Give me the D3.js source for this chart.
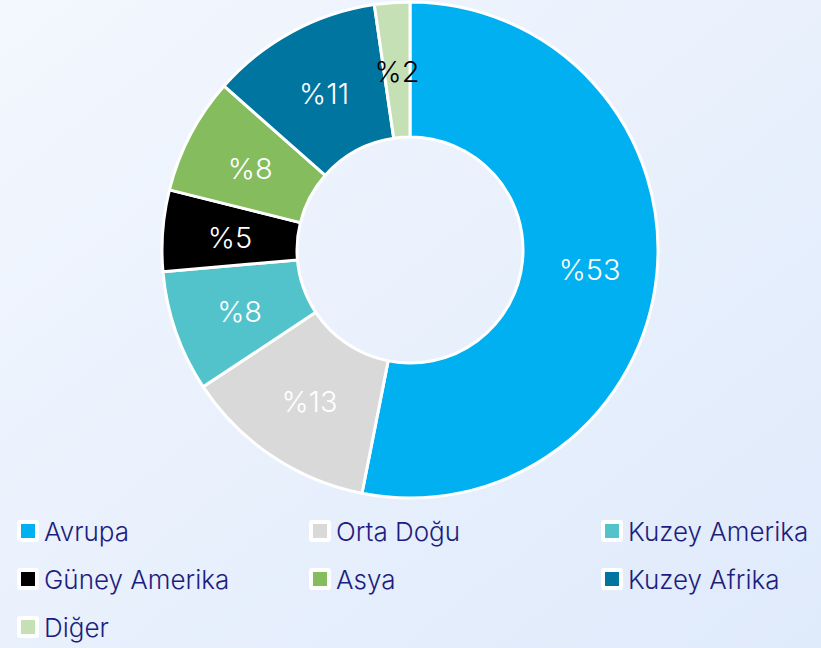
<!DOCTYPE html>
<meta charset="utf-8">
<style>
  body { margin: 0; }
  svg { display: block; }
</style>
<body>
<script src="https://cdn.jsdelivr.net/npm/d3@7"></script>
<script>

// data (slice sizes estimated from the angles, labels are rounded)
var regions = ["Avrupa", "Orta Doğu", "Kuzey Amerika", "Güney Amerika", "Asya", "Kuzey Afrika", "Diğer"];
var shares = [53.1, 12.6, 7.9, 5.3, 7.6, 11.2, 2.3];
var colors = ["#00b0f0", "#d9d9d9", "#53c3cb", "#000000", "#84bc5e", "#00759f", "#c5e0b4"];
var labelColors = ["#fff", "#fff", "#fff", "#fff", "#fff", "#fff", "#000"];

var width = 821,
    height = 648,
    cx = 410,
    cy = 250,
    outerR = 248,
    innerR = 113;

var svg = d3.select("body").append("svg")
    .attr("width", width)
    .attr("height", height);

var grad = svg.append("defs").append("linearGradient")
    .attr("id", "bg")
    .attr("x1", "0").attr("y1", "0")
    .attr("x2", "1").attr("y2", "1");
grad.append("stop").attr("offset", "0").attr("stop-color", "#f3f7fe");
grad.append("stop").attr("offset", "1").attr("stop-color", "#dfeafb");

svg.append("rect")
    .attr("width", width)
    .attr("height", height)
    .attr("fill", "url(#bg)");

var data = regions.map(function(r, i) {
  return { name: r, value: shares[i], color: colors[i], label: labelColors[i] };
});

var pie = d3.pie()
    .sort(null)
    .value(function(d) { return d.value; });

var arc = d3.arc()
    .innerRadius(innerR)
    .outerRadius(outerR);

var g = svg.append("g")
    .attr("transform", "translate(" + cx + "," + cy + ")");

var slices = g.selectAll("g.slice")
    .data(pie(data))
    .enter().append("g")
      .attr("class", "slice");

slices.append("path")
    .attr("d", arc)
    .attr("fill", function(d) { return d.data.color; })
    .attr("stroke", "#fff")
    .attr("stroke-width", 3)
    .attr("stroke-linejoin", "round");

slices.append("text")
    .attr("transform", function(d) {
      var c = arc.centroid(d);
      return "translate(" + c[0] + "," + (c[1] + 2) + ")";
    })
    .attr("text-anchor", "middle")
    .attr("dominant-baseline", "central")
    .attr("font-family", "Inter, 'Open Sans', sans-serif")
    .attr("font-weight", 300)
    .attr("font-size", 29)
    .attr("fill", function(d) { return d.data.label; })
    .text(function(d) { return "%" + Math.round(d.data.value); });

// legend, three columns
var legend = svg.append("g")
    .selectAll("g")
    .data(data)
    .enter().append("g")
      .attr("transform", function(d, i) {
        var col = i % 3, row = Math.floor(i / 3);
        return "translate(" + (17 + col * 292) + "," + (531 + row * 48) + ")";
      });

legend.append("rect")
    .attr("x", 0)
    .attr("y", -11)
    .attr("width", 22)
    .attr("height", 22)
    .attr("rx", 3)
    .attr("fill", "#fff");

legend.append("rect")
    .attr("x", 4)
    .attr("y", -7)
    .attr("width", 14)
    .attr("height", 14)
    .attr("fill", function(d) { return d.color; });

legend.append("text")
    .attr("x", 27)
    .attr("y", 0)
    .attr("dominant-baseline", "central")
    .attr("font-family", "Inter, 'Open Sans', sans-serif")
    .attr("font-weight", 300)
    .attr("font-size", 26)
    .attr("fill", "#1d1d80")
    .text(function(d) { return d.name; });

</script>
</body>
